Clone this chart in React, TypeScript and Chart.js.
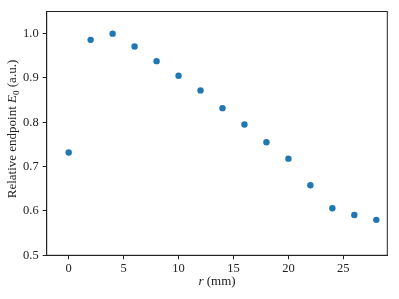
import React, { useEffect, useRef } from "react";
import { Chart, registerables } from "chart.js";

Chart.register(...registerables);

const rValues = [0, 2, 4, 6, 8, 10, 12, 14, 16, 18, 20, 22, 24, 26, 28];
const endpointValues = [0.732, 0.986, 1.0, 0.971, 0.938, 0.905, 0.872, 0.832, 0.795, 0.755, 0.718, 0.658, 0.606, 0.591, 0.58];
const xTicks = [0, 5, 10, 15, 20, 25];
const yTicks = [0.5, 0.6, 0.7, 0.8, 0.9, 1.0];

const FONT = "'Liberation Serif', 'DejaVu Serif', serif";
const INK = "#222";

type Seg = { t: string; italic?: boolean; sub?: boolean };

function drawSegs(ctx: CanvasRenderingContext2D, segs: Seg[], size: number) {
  const fontFor = (s: Seg) =>
    `${s.italic ? "italic " : ""}${s.sub ? Math.round(size * 0.72) : size}px ${FONT}`;
  let total = 0;
  const widths = segs.map((s) => {
    ctx.font = fontFor(s);
    const w = ctx.measureText(s.t).width;
    total += w;
    return w;
  });
  let x = -total / 2;
  segs.forEach((s, i) => {
    ctx.font = fontFor(s);
    ctx.fillText(s.t, x, s.sub ? size * 0.25 : 0);
    x += widths[i];
  });
}

const framePlugin = {
  id: "frame",
  afterDraw(chart: any) {
    const { ctx, chartArea } = chart;
    const { left, right, top, bottom } = chartArea;
    ctx.save();
    ctx.strokeStyle = INK;
    ctx.lineWidth = 1;
    ctx.strokeRect(left, top, right - left, bottom - top);
    ctx.fillStyle = INK;
    ctx.textBaseline = "middle";
    ctx.textAlign = "left";
    // x title
    ctx.save();
    ctx.translate((left + right) / 2, 282);
    drawSegs(ctx, [{ t: "r", italic: true }, { t: " (mm)" }], 13);
    ctx.restore();
    // y title
    ctx.save();
    ctx.translate(13, 129);
    ctx.rotate(-Math.PI / 2);
    drawSegs(
      ctx,
      [{ t: "Relative endpoint " }, { t: "E", italic: true }, { t: "0", sub: true }, { t: " (a.u.)" }],
      13
    );
    ctx.restore();
    ctx.restore();
  },
};

export default function App() {
  const ref = useRef<HTMLCanvasElement>(null);
  useEffect(() => {
    if (!ref.current) return;
    const chart = new Chart(ref.current, {
      type: "scatter",
      data: {
        datasets: [
          {
            data: rValues.map((r, i) => ({ x: r, y: endpointValues[i] })),
            backgroundColor: "#1f77b4",
            borderColor: "#1f77b4",
            pointRadius: 3.2,
            pointHoverRadius: 3.2,
            borderWidth: 0,
          },
        ],
      },
      options: {
        responsive: false,
        animation: false,
        layout: { padding: { left: 0, top: 11, right: 11.7, bottom: 0 } },
        plugins: { legend: { display: false }, tooltip: { enabled: false } },
        scales: {
          x: {
            type: "linear",
            min: -2,
            max: 29,
            afterBuildTicks: (s: any) => {
              s.ticks = xTicks.map((v) => ({ value: v }));
            },
            afterFit: (s: any) => {
              s.height = 43.7;
            },
            grid: { drawOnChartArea: false, drawTicks: true, tickLength: 4, color: INK },
            border: { display: true, color: INK, width: 1 },
            ticks: { color: INK, font: { family: FONT, size: 12.5 }, padding: 2, maxRotation: 0 },
          },
          y: {
            type: "linear",
            min: 0.5,
            max: 1.05,
            afterBuildTicks: (s: any) => {
              s.ticks = yTicks.map((v) => ({ value: v }));
            },
            afterFit: (s: any) => {
              s.width = 46.7;
            },
            grid: { drawOnChartArea: false, drawTicks: true, tickLength: 4, color: INK },
            border: { display: true, color: INK, width: 1 },
            ticks: {
              color: INK,
              font: { family: FONT, size: 12.5 },
              padding: 4,
              callback: (v: any) => Number(v).toFixed(1),
            },
          },
        },
      },
      plugins: [framePlugin],
    });
    return () => chart.destroy();
  }, []);
  return (
    <div style={{ position: "fixed", left: 0, top: 0, width: 399, height: 299, background: "#fff" }}>
      <canvas ref={ref} width={399} height={299} />
    </div>
  );
}
